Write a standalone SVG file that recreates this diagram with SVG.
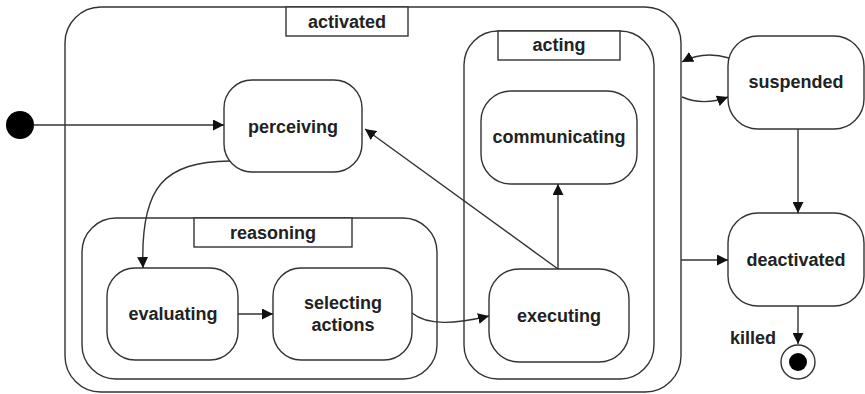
<svg xmlns="http://www.w3.org/2000/svg" width="865" height="394" viewBox="0 0 865 394">
<defs>
<style>
.st{fill:#fff;stroke:#333;stroke-width:1.4}
.lb{fill:#fff;stroke:#333;stroke-width:1.4}
.t{font-family:"Liberation Sans",Arial,sans-serif;font-weight:bold;font-size:18px;fill:#222;text-anchor:middle}
.c{fill:none;stroke:#333;stroke-width:1.4}
</style>
<marker id="ah" viewBox="0 0 10 10" refX="10" refY="5" markerWidth="11" markerHeight="11" markerUnits="userSpaceOnUse" orient="auto">
<path d="M0,0 L10,5 L0,10 Z" fill="#111"/>
</marker>
</defs>
<rect width="865" height="394" fill="#fff"/>
<g id="activated">
<rect class="st" x="65" y="7" width="616" height="385" rx="36"/>
<rect class="lb" x="286" y="7" width="122" height="29"/>
<text class="t" x="347" y="28">activated</text>
</g>
<g id="reasoning">
<rect class="st" x="82" y="218" width="355" height="161" rx="34"/>
<rect class="lb" x="194" y="218" width="158" height="29"/>
<text class="t" x="273" y="239">reasoning</text>
</g>
<g id="acting">
<rect class="st" x="464" y="31" width="190" height="348" rx="34"/>
<rect class="lb" x="498" y="31" width="122" height="29"/>
<text class="t" x="559" y="51">acting</text>
</g>
<g id="initial">
<circle cx="20" cy="125" r="14" fill="#000"/>
</g>
<g id="perceiving">
<rect class="st" x="224" y="80" width="138" height="92" rx="28"/>
<text class="t" x="293" y="133">perceiving</text>
</g>
<g id="communicating">
<rect class="st" x="481" y="91" width="156" height="93" rx="30"/>
<text class="t" x="559" y="143">communicating</text>
</g>
<g id="evaluating">
<rect class="st" x="107" y="268" width="131" height="92" rx="28"/>
<text class="t" x="173" y="320">evaluating</text>
</g>
<g id="selecting">
<rect class="st" x="273" y="268" width="139" height="92" rx="28"/>
<text class="t" x="343" y="309">selecting</text>
<text class="t" x="343" y="331">actions</text>
</g>
<g id="executing">
<rect class="st" x="489" y="269" width="140" height="93" rx="30"/>
<text class="t" x="559" y="322">executing</text>
</g>
<g id="suspended">
<rect class="st" x="728" y="36" width="136" height="93" rx="30"/>
<text class="t" x="796" y="88">suspended</text>
</g>
<g id="deactivated">
<rect class="st" x="728" y="213" width="136" height="93" rx="30"/>
<text class="t" x="796" y="266">deactivated</text>
</g>
<g id="final">
<circle cx="798" cy="362" r="17" fill="#fff" stroke="#333" stroke-width="1.4"/>
<circle cx="798" cy="362" r="9" fill="#000"/>
</g>
<g id="connectors">
<path class="c" d="M34,125 L224,125" marker-end="url(#ah)"/>
<path class="c" d="M230,161 C165,162 140,185 143,268" marker-end="url(#ah)"/>
<path class="c" d="M238,314 L273,314" marker-end="url(#ah)"/>
<path class="c" d="M412,313 C428,326 455,324 489,316" marker-end="url(#ah)"/>
<path class="c" d="M558,269 L558,184" marker-end="url(#ah)"/>
<path class="c" d="M558,269 L365,129" marker-end="url(#ah)"/>
<path class="c" d="M729,58 C712,53 695,55 682,62" marker-end="url(#ah)"/>
<path class="c" d="M682,97 C696,103 712,103 728,97" marker-end="url(#ah)"/>
<path class="c" d="M798,129 L798,213" marker-end="url(#ah)"/>
<path class="c" d="M681,260 L728,260" marker-end="url(#ah)"/>
<path class="c" d="M798,306 L798,344" marker-end="url(#ah)"/>
<text class="t" x="753" y="344">killed</text>
</g>
</svg>
